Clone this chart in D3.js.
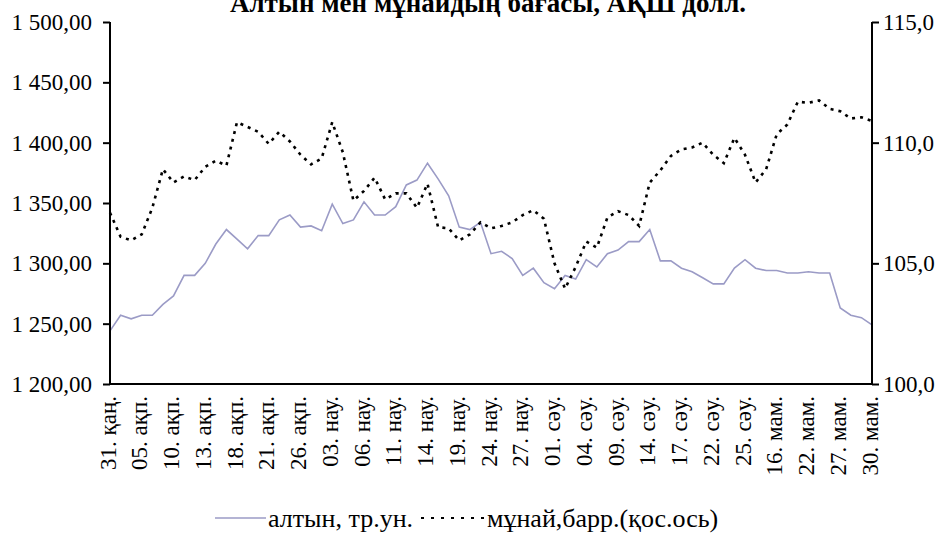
<!DOCTYPE html>
<html>
<head>
<meta charset="utf-8">
<script src="https://cdn.jsdelivr.net/npm/d3@7"></script>
<style>
  body { margin: 0; background: #fff; }
  svg text { font-family: "Liberation Serif", "Times New Roman", serif; fill: #000; }
</style>
</head>
<body>
<div id="chart"></div>
<script>
//Width and height
var w = 946;
var h = 545;
var margin = {top: 22, right: 74, bottom: 161, left: 110};

//Tick labels on the x axis (every third trading day)
var tickLabels = ["31. қаң.", "05. ақп.", "10. ақп.", "13. ақп.", "18. ақп.", "21. ақп.", "26. ақп.",
    "03. нау.", "06. нау.", "11. нау.", "14. нау.", "19. нау.", "24. нау.", "27. нау.",
    "01. сәу.", "04. сәу.", "09. сәу.", "14. сәу.", "17. сәу.", "22. сәу.", "25. сәу.",
    "16. мам.", "22. мам.", "27. мам.", "30. мам."];
var labelStep = 3;

//Gold, USD per troy ounce (left axis)
var gold = [1244, 1257, 1254, 1257, 1257, 1266, 1273, 1290, 1290, 1300,
    1316, 1328, 1320, 1312, 1323, 1323, 1336, 1340, 1330, 1331,
    1327, 1349, 1333, 1336, 1351, 1340, 1340, 1347, 1365, 1369,
    1383, 1370, 1356, 1330, 1328, 1334, 1308, 1310, 1304, 1290,
    1296, 1284, 1279, 1290, 1287, 1303, 1297, 1308, 1311, 1318,
    1318, 1328, 1302, 1302, 1296, 1293, 1288, 1283, 1283, 1296,
    1303, 1296, 1294, 1294, 1292, 1292, 1293, 1292, 1292, 1263,
    1257, 1255, 1249];

//Oil, USD per barrel (right axis)
var oil = [107.1, 106.1, 105.95, 106.2, 107.3, 108.9, 108.35, 108.6, 108.45, 109.0,
    109.25, 109.05, 110.85, 110.65, 110.45, 109.95, 110.45, 110.05, 109.5, 109.1,
    109.35, 110.85, 109.6, 107.6, 108.0, 108.55, 107.65, 107.9, 107.9, 107.3,
    108.3, 106.5, 106.45, 105.95, 106.2, 106.7, 106.45, 106.55, 106.7, 107.0,
    107.2, 106.85, 105.0, 103.95, 104.85, 105.9, 105.65, 106.9, 107.16, 107.0,
    106.55, 108.35, 108.85, 109.45, 109.72, 109.8, 110.0, 109.5, 109.15, 110.2,
    109.5, 108.35, 108.9, 110.35, 110.75, 111.7, 111.65, 111.75, 111.4, 111.3,
    111.0, 111.05, 110.9];

var leftTicks = [1200, 1250, 1300, 1350, 1400, 1450, 1500];
var rightTicks = [100, 105, 110, 115];

var title = "Алтын мен мұнайдың бағасы, АҚШ долл.";
var goldName = "алтын, тр.ун.";
var oilName = "мұнай,барр.(қос.ось)";

var x0 = margin.left, x1 = w - margin.right;
var y0 = h - margin.bottom, y1 = margin.top;

var x = d3.scaleLinear().domain([0, gold.length - 1]).range([x0, x1]);
var yLeft = d3.scaleLinear().domain([1200, 1500]).range([y0, y1]);
var yRight = d3.scaleLinear().domain([100, 115]).range([y0, y1]);

function fmtLeft(v) {
    return d3.format(",.2f")(v).replace(/,/g, " ").replace(".", ",");
}
function fmtRight(v) {
    return d3.format(".1f")(v).replace(".", ",");
}

var svg = d3.select("#chart")
    .append("svg")
    .attr("width", w)
    .attr("height", h);

//Title (cut off at the top like in the source)
svg.append("text")
    .attr("x", 488)
    .attr("y", 12)
    .attr("text-anchor", "middle")
    .style("font-size", "27px")
    .style("font-weight", "bold")
    .text(title);

//Lines
var goldLine = d3.line()
    .x(function(d, i) { return x(i); })
    .y(function(d) { return yLeft(d); });

var oilLine = d3.line()
    .x(function(d, i) { return x(i); })
    .y(function(d) { return yRight(d); });

svg.append("path")
    .datum(gold)
    .attr("d", goldLine)
    .attr("fill", "none")
    .attr("stroke", "#9b9bc6")
    .attr("stroke-width", 1.6);

svg.append("path")
    .datum(oil)
    .attr("d", oilLine)
    .attr("fill", "none")
    .attr("stroke", "#000")
    .attr("stroke-width", 2.6)
    .attr("stroke-dasharray", "3,5");

//Left axis
var gl = svg.append("g")
    .attr("transform", "translate(" + x0 + ",0)")
    .call(d3.axisLeft(yLeft).tickValues(leftTicks).tickFormat(fmtLeft).tickSize(7).tickPadding(11));

//Right axis
var gr = svg.append("g")
    .attr("transform", "translate(" + x1 + ",0)")
    .call(d3.axisRight(yRight).tickValues(rightTicks).tickFormat(fmtRight).tickSize(7).tickPadding(4));

//Bottom axis
var xTicks = tickLabels.map(function(d, i) { return i * labelStep; });
var gb = svg.append("g")
    .attr("transform", "translate(0," + y0 + ")")
    .call(d3.axisBottom(x).tickValues(xTicks)
        .tickFormat(function(d) { return tickLabels[d / labelStep]; })
        .tickSize(0));

gb.selectAll("text")
    .attr("transform", "rotate(-90)")
    .attr("text-anchor", "end")
    .attr("x", -12)
    .attr("y", -3)
    .attr("dy", "0.35em");

[gl, gr, gb].forEach(function(g) {
    g.selectAll(".domain").attr("stroke", "#000").attr("stroke-width", 2);
    g.selectAll(".tick line").attr("stroke", "#000").attr("stroke-width", 2);
    g.selectAll("text").style("font-size", "23px").attr("font-family", null);
});
gl.select(".domain").attr("d", "M0," + y0 + "V" + y1);
gr.select(".domain").attr("d", "M0," + y0 + "V" + y1);
gb.select(".domain").attr("d", "M" + x0 + ",0H" + x1);

//Legend
var ly = 518;
svg.append("line")
    .attr("x1", 215).attr("x2", 266)
    .attr("y1", ly).attr("y2", ly)
    .attr("stroke", "#9b9bc6")
    .attr("stroke-width", 1.6);
svg.append("text")
    .attr("x", 268).attr("y", ly).attr("dy", "0.35em")
    .style("font-size", "26px")
    .text(goldName);
svg.append("line")
    .attr("x1", 421).attr("x2", 484)
    .attr("y1", ly).attr("y2", ly)
    .attr("stroke", "#000")
    .attr("stroke-width", 2)
    .attr("stroke-dasharray", "3,7");
svg.append("text")
    .attr("x", 487).attr("y", ly).attr("dy", "0.35em")
    .style("font-size", "26px")
    .text(oilName);
</script>
</body>
</html>
